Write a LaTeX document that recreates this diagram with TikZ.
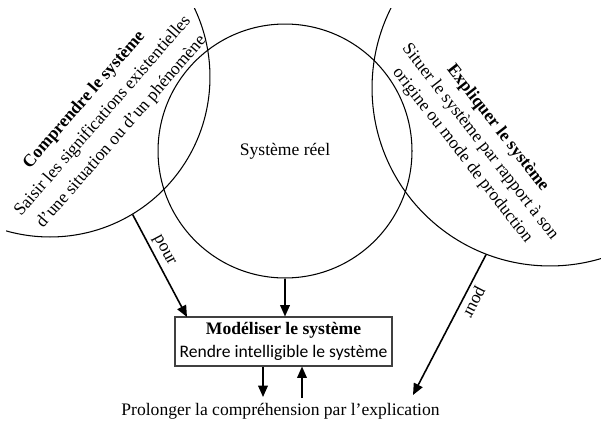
\documentclass[tikz,border=0pt]{standalone}
\usepackage{fontspec}
\setmainfont{Liberation Serif}
\newfontfamily\calibfont{Carlito}
\usepackage{tikz}
\usetikzlibrary{arrows.meta}

\begin{document}
\begin{tikzpicture}[x=0.02cm, y=-0.02cm,
  every node/.style={font=\fontsize{10}{12}\selectfont},
  cercle/.style={draw, circle, line width=0.6pt, inner sep=0pt},
  fleche/.style={line width=0.9pt, -{Triangle[length=6.5pt,width=5.5pt]}},
  etiquette/.style={font=\fontsize{10}{12}\selectfont, inner sep=2pt}]
\useasboundingbox (0,0) rectangle (601,423);

% Big circles (cut by the frame)
\begin{scope}
\clip (6,8) rectangle (601,423);
\node[cercle, minimum size=6.4cm] (comprcercle) at (50,77) {};
\node[cercle, minimum size=7.12cm] (explcercle) at (550,88) {};
\end{scope}
% Real system
\node[cercle, minimum size=5.08cm] (sysreel) at (285,151) {Système réel};

% Texts in the big circles
\node[rotate=49, align=center, font=\fontsize{10}{14}\selectfont] (comprendre) at (103,116)
  {\textbf{Comprendre le système}\\ Saisir les significations existentielles\\ d'une situation ou d'un phénomène};
\node[rotate=-52, align=center, font=\fontsize{10}{12.7}\selectfont] (expliquer) at (480,142)
  {\textbf{Expliquer le système}\\ Situer le système par rapport à son\\ origine ou mode de production};

% Model box
\node[draw=black!75, line width=0.6pt, minimum width=4.34cm, minimum height=0.98cm,
  align=center, inner sep=1pt] (modele) at (283.5,341.5)
  {\textbf{Modéliser le système}\\[1pt] {\calibfont Rendre intelligible le système}};
\node (prolonger) at (280.5,411) {Prolonger la compréhension par l'explication};

% Arrows
\coordinate (comprfin) at (187,317);
\coordinate (explfin) at (413,395);
\coordinate (bas) at (263,397);
\coordinate (haut) at (302,398);
\draw[fleche] (comprcercle.-59) -- (comprfin)
  node[pos=0.4, sloped, above, etiquette] {pour};
\draw[fleche] (explcercle.-111.4) -- (explfin)
  node[pos=0.3, sloped, above, allow upside down, etiquette] {pour};
\draw[fleche] (sysreel.south) -- (modele.north -| sysreel.south);
\draw[fleche] (modele.south -| bas) -- (bas);
\draw[fleche] (haut) -- (modele.south -| haut);
\end{tikzpicture}
\end{document}
